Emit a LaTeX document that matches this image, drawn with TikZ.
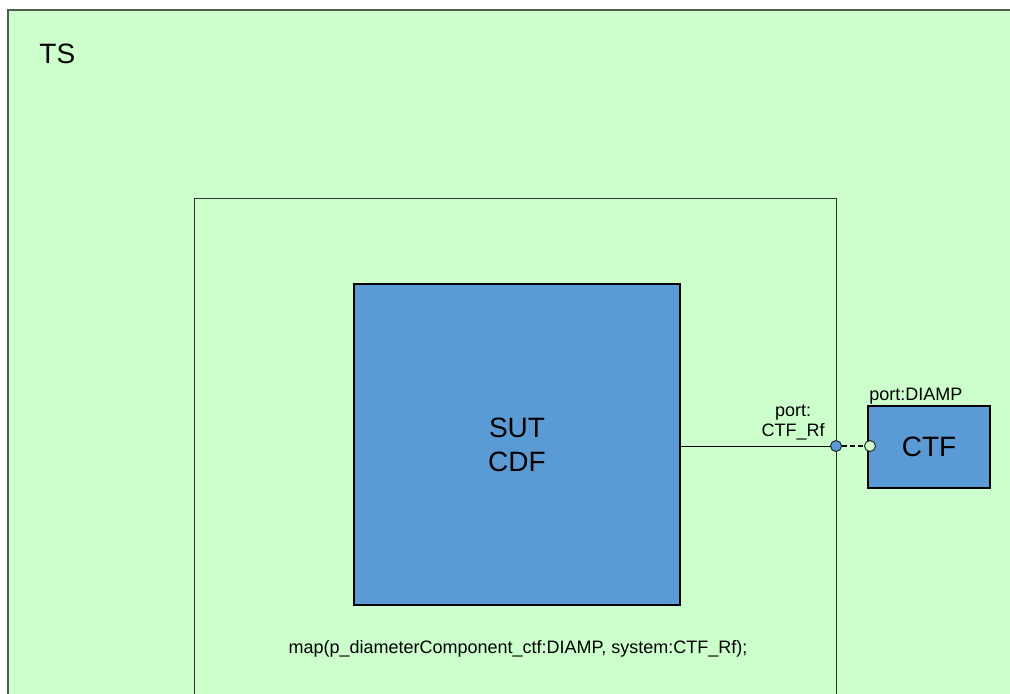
\documentclass[tikz,border=0pt]{standalone}
\usepackage{fontspec}
\setmainfont{Liberation Sans}
\usetikzlibrary{positioning}
\definecolor{tsgreen}{HTML}{CCFFCC}
\definecolor{compblue}{HTML}{5B9BD5}
\definecolor{framegrey}{HTML}{4D5C4D}

\begin{document}
\begin{tikzpicture}[
			x=0.5pt, y=-0.5pt,
			frame/.style={
					draw=framegrey,
					fill=tsgreen,
					line width=0.5pt
				},
			comp/.style={
					draw=black,
					fill=compblue,
					line width=0.6pt,
					align=center,
					inner sep=0pt,
					font=\fontsize{14}{17}\selectfont
				},
			portdot/.style={circle, draw=black!85, line width=0.5pt, inner sep=0pt, minimum size=5.5pt},
			smalltext/.style={inner sep=0pt, font=\fontsize{9}{10}\selectfont}
		]
		\clip (0,0) rectangle (1010,693);
		\fill[white] (0,0) rectangle (1010,693);

		% test system frame
		\draw[frame, line width=0.9pt] (8,10) rectangle (1040,720);
		\node[anchor=base west, inner sep=0pt, font=\fontsize{14}{17}\selectfont] (ts) at (39,63) {TS};

		% system frame
		\draw[frame, draw=black!80] (194,198) rectangle (836,720);

		\node[comp, minimum width=163pt, minimum height=160.5pt] (sut) at (517,444.5) {SUT\\CDF};
		\node[comp, minimum width=61pt, minimum height=41pt] (ctf) at (929,447) {CTF};

		% ports
		\node[portdot, fill=compblue] (rf) at (836,446) {};
		\node[portdot, fill=tsgreen] (diamp) at (870,446) {};

		\node[smalltext, align=center] (rflabel) at (793,422) {port:\\CTF\_Rf};
		\node[smalltext, anchor=base west] (diamplabel) at (869,400) {port:DIAMP};

		\draw[line width=0.5pt] (sut.east |- rf) -- (rf);
		\draw[line width=1.3pt, dash pattern=on 2.5pt off 1.5pt] (rf) -- (diamp);

		\node[smalltext] (maptext) at (518,649) {map(p\_diameterComponent\_ctf:DIAMP, system:CTF\_Rf);};
	\end{tikzpicture}
\end{document}
